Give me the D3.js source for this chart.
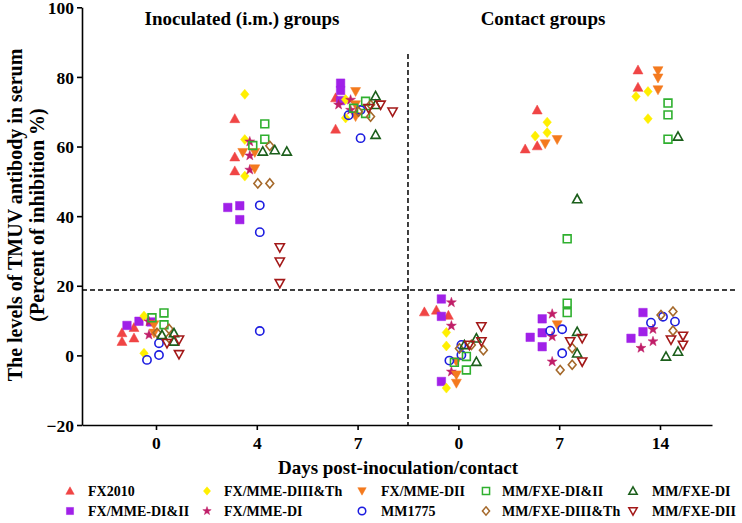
<!DOCTYPE html>
<html><head><meta charset="utf-8">
<script src="https://cdn.jsdelivr.net/npm/d3@7"></script>
<style>
html,body{margin:0;padding:0;background:#fff;}
svg{display:block;font-family:"Liberation Serif","Times New Roman",serif;font-weight:bold;}
</style></head>
<body><svg id="chart" width="742" height="523"></svg>
<script>
// ---------- data ----------
const groupLabels = ["0", "4", "7", "0", "7", "14"];
const groupTitles = ["Inoculated (i.m.) groups", "Contact groups"];
const yTicks = [-20, 0, 20, 40, 60, 80, 100];
const cutoff = 18.8;

const seriesNames = ["FX2010", "FX/MME-DI&II", "FX/MME-DIII&Th", "FX/MME-DI", "FX/MME-DII",
  "MM1775", "MM/FXE-DI&II", "MM/FXE-DIII&Th", "MM/FXE-DI", "MM/FXE-DII"];
const seriesColors = ["#f04545", "#a020e8", "#ffef00", "#c01e68", "#f47a1e",
  "#1c1ce0", "#2fb02f", "#a5692b", "#1b5f1b", "#a31818"];
const seriesShapes = ["triangle", "square", "diamond", "star", "triangleDown",
  "circle", "square", "diamond", "triangle", "triangleDown"];
const seriesFilled = [true, true, true, true, true, false, false, false, false, false];

// values per group: [inoc d0, inoc d4, inoc d7, contact d0, contact d7, contact d14]
const FX2010       = [[8, 6.5, 5, 4], [68, 57, 53], [74, 65], [13, 12.5, 11.5], [70.5, 60.2, 59.3], [82, 77]];
const FX_MME_DI_II = [[9.8, 8.6, 9.6], [43, 42.5, 39], [78.2, 76.1, 73.2], [16.2, 11.2, -7.5], [10.5, 6.5, 5.2, 2.5], [12.3, 6.8, 4.9]];
const FX_MME_DIII  = [[11.3, 0.6], [75, 62, 51.5], [73.5, 68.2], [6.6, 2.7, -9.4], [67, 64, 63], [75.8, 74.4, 68]];
const FX_MME_DI    = [[9.7, 5.9], [61.4, 57.4, 53.3], [73.4, 72, 70.5], [15.2, 8.5, -4.7], [11.9, 5.4, -1.8], [7.5, 4, 2.1]];
const FX_MME_DII   = [[8.8, 6.4], [58.3, 58.3, 53.6], [75.8, 72, 68.6], [-1.8, -5.6, -8], [62, 60.8, 8.8], [81.8, 79.7, 76.3]];
const MM1775       = [[3.5, 0.1, -1.3], [43.1, 35.4, 7], [70.5, 69, 62.4], [3, 0.1, -1.5], [7.5, 7.1, 0.6], [11.1, 9.4, 9.7]];
const MM_FXE_DI_II = [[12.2, 10.8, 8.8], [66.5, 62.1, 60.3], [73, 71, 69.5], [-0.3, -2, -4.2], [33.5, 15, 12.3], [72.5, 69.1, 62.1]];
const MM_FXE_DIII  = [[7.6, 6.5, 5], [60.2, 49.4, 49.4], [72, 70, 68.6], [3, 2, 1.5], [2.1, -2.7, -4.2], [12.6, 11.6, 7.1]];
const MM_FXE_DI    = [[6.4, 5.9, 4], [59, 58.6, 58.6], [74.5, 72, 63.4], [4.9, 3, -1.8], [44.9, 6.8, 0.6], [62.9, 1.1, -0.3]];
const MM_FXE_DII   = [[4.5, 3.5, 0.3], [31, 26.9, 20.7], [72, 71, 70], [8.3, 4, 3], [4.9, 4, -1.8], [5.6, 4.5, 3]];
const seriesValues = [FX2010, FX_MME_DI_II, FX_MME_DIII, FX_MME_DI, FX_MME_DII,
  MM1775, MM_FXE_DI_II, MM_FXE_DIII, MM_FXE_DI, MM_FXE_DII];

(function () {
// ---------- layout ----------
const svg = d3.select("#chart");
const left = 82, right = 712, topY = 7.3, bottom = 425;
const y = d3.scaleLinear().domain([-20, 100]).range([bottom, topY]);
const x = d3.scaleLinear().domain([-0.734, 5.516]).range([left, right]);
const offset = d3.scalePoint().domain(d3.range(seriesNames.length)).range([-22, 23]);

function shapePath(shape, s) {
  switch (shape) {
    case "triangle": return `M0,${-s}L${s},${s * 0.8}L${-s},${s * 0.8}Z`;
    case "triangleDown": return `M0,${s}L${s},${-s * 0.8}L${-s},${-s * 0.8}Z`;
    case "square": { const h = s * 0.85; return `M${-h},${-h}H${h}V${h}H${-h}Z`; }
    case "diamond": return `M0,${-s}L${s * 0.85},0L0,${s}L${-s * 0.85},0Z`;
    case "circle": { const p = d3.path(); const r = s * 0.9; p.moveTo(r, 0); p.arc(0, 0, r, 0, 2 * Math.PI); p.closePath(); return p.toString(); }
    case "star": {
      let d = "";
      for (let k = 0; k < 10; k++) {
        const r = k % 2 === 0 ? s * 1.05 : s * 0.42;
        const a = -Math.PI / 2 + k * Math.PI / 5;
        d += (k === 0 ? "M" : "L") + (r * Math.cos(a)).toFixed(2) + "," + (r * Math.sin(a)).toFixed(2);
      }
      return d + "Z";
    }
  }
}

// axes
const yAxis = svg.append("g").attr("transform", `translate(${left},0)`)
  .call(d3.axisLeft(y).tickValues(yTicks).tickSize(5).tickSizeOuter(0).tickPadding(3));
const xAxis = svg.append("g").attr("transform", `translate(0,${bottom})`)
  .call(d3.axisBottom(x).tickValues(d3.range(groupLabels.length)).tickFormat(i => groupLabels[i]).tickSize(5).tickSizeOuter(0).tickPadding(6));
[yAxis, xAxis].forEach(g => {
  g.selectAll("path,line").attr("stroke", "#000").attr("stroke-width", 1.6);
  g.selectAll("text").attr("font-family", "Liberation Serif").attr("font-weight", "bold").attr("font-size", 17.5).attr("fill", "#000");
});
yAxis.selectAll("text").attr("dy", "0.35em");
xAxis.selectAll("text").attr("dy", "0.75em");

// dashed reference lines
svg.append("line").attr("x1", left).attr("x2", 738).attr("y1", y(cutoff)).attr("y2", y(cutoff))
  .attr("stroke", "#000").attr("stroke-width", 1.5).attr("stroke-dasharray", "5,3");
const xSplit = (x(2) + x(3)) / 2;
svg.append("line").attr("x1", xSplit).attr("x2", xSplit).attr("y1", 54).attr("y2", bottom)
  .attr("stroke", "#000").attr("stroke-width", 1.5).attr("stroke-dasharray", "5,3");

// group titles
svg.append("text").attr("x", 242).attr("y", 25).attr("text-anchor", "middle").attr("font-size", 19).text(groupTitles[0]);
svg.append("text").attr("x", 543).attr("y", 25).attr("text-anchor", "middle").attr("font-size", 19).text(groupTitles[1]);

// axis titles
svg.append("text").attr("x", 398).attr("y", 474).attr("text-anchor", "middle").attr("font-size", 19)
  .text("Days post-inoculation/contact");
const yl = svg.append("text").attr("transform", `translate(0,215) rotate(-90)`).attr("text-anchor", "middle").attr("font-size", 20);
yl.append("tspan").attr("x", 0).attr("y", 22).text("The levels of TMUV antibody in serum");
yl.append("tspan").attr("x", 0).attr("y", 44).text("(Percent of inhibition %)");

// points with simple collision spreading
const pts = [];
seriesValues.forEach((groups, si) => {
  groups.forEach((vals, gi) => {
    const placed = [];
    vals.forEach(v => {
      const cy = y(v);
      const base = x(gi) + offset(si);
      let cx = base;
      for (const dx of [0, -6, 6, -12, 12]) {
        if (placed.every(p => Math.abs(p.cy - cy) >= 7 || Math.abs(p.cx - (base + dx)) >= 7)) { cx = base + dx; break; }
      }
      placed.push({cx, cy});
      pts.push({si, cx, cy});
    });
  });
});
svg.append("g").selectAll("path").data(pts).join("path")
  .attr("transform", d => `translate(${d.cx},${d.cy})`)
  .attr("d", d => shapePath(seriesShapes[d.si], seriesFilled[d.si] ? 5 : 4.6))
  .attr("fill", d => seriesFilled[d.si] ? seriesColors[d.si] : "none")
  .attr("stroke", d => seriesColors[d.si])
  .attr("stroke-width", d => seriesFilled[d.si] ? 0.5 : 1.6);

// legend
const legSymX = [70, 207, 362, 486, 633];
const legTxtX = [88, 224, 381, 502, 652];
const legRowY = [491, 511];
const leg = svg.append("g");
seriesNames.forEach((name, i) => {
  const col = Math.floor(i / 2), row = i % 2;
  leg.append("path").attr("transform", `translate(${legSymX[col]},${legRowY[row]})`)
    .attr("d", shapePath(seriesShapes[i], 4.2))
    .attr("fill", seriesFilled[i] ? seriesColors[i] : "none")
    .attr("stroke", seriesColors[i]).attr("stroke-width", seriesFilled[i] ? 0.5 : 1.5);
  leg.append("text").attr("x", legTxtX[col]).attr("y", legRowY[row]).attr("dy", "0.35em").attr("font-size", 14).text(name);
});
})();
</script></body></html>
